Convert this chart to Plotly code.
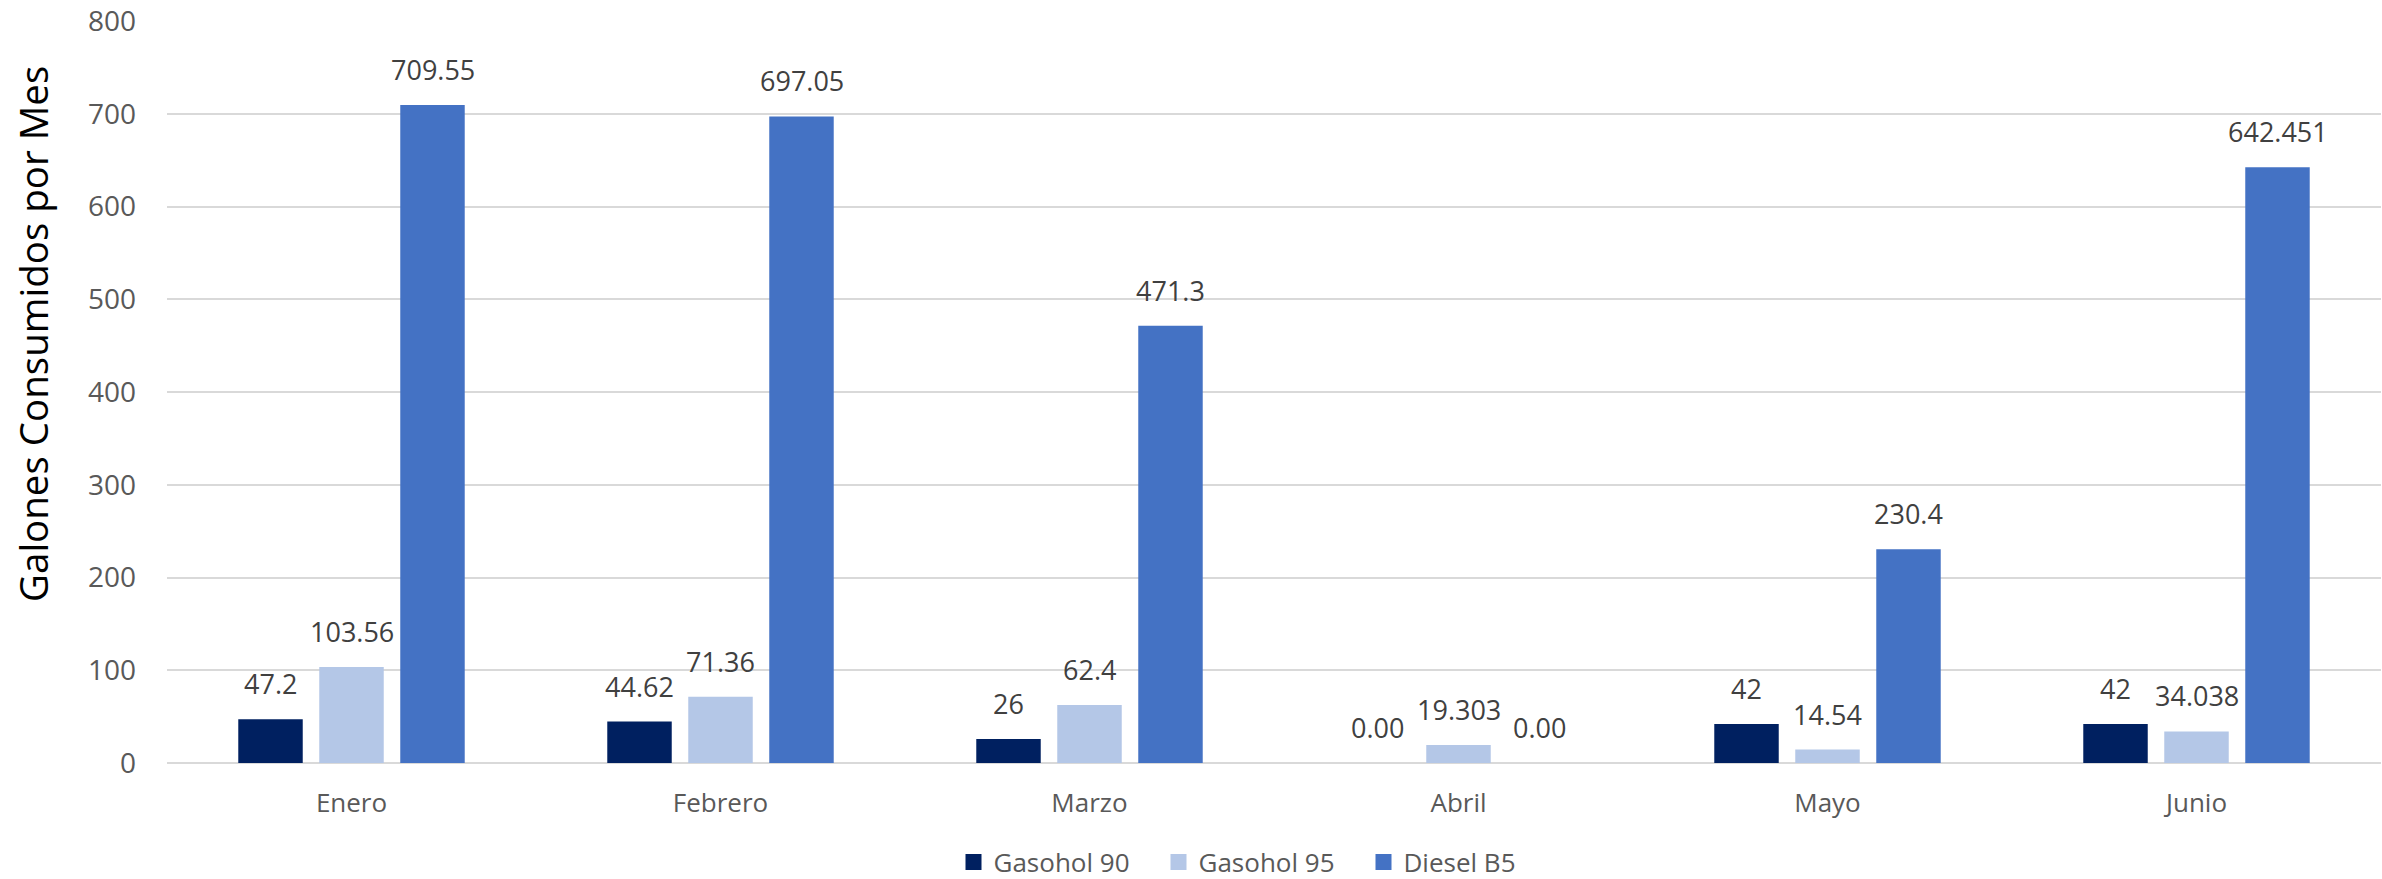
import plotly.graph_objects as go

months = ["Enero", "Febrero", "Marzo", "Abril", "Mayo", "Junio"]
gasohol90 = [47.2, 44.62, 26, 0, 42, 42]
gasohol95 = [103.56, 71.36, 62.4, 19.303, 14.54, 34.038]
diesel_b5 = [709.55, 697.05, 471.3, 0, 230.4, 642.451]
y_ticks = [0, 100, 200, 300, 400, 500, 600, 700, 800]

series = [
    ("Gasohol 90", gasohol90, "#002060"),
    ("Gasohol 95", gasohol95, "#B4C7E7"),
    ("Diesel B5", diesel_b5, "#4472C4"),
]

BARGAP = 0.3415
GROUPGAP = 0.204
FONT = "Open Sans, DejaVu Sans, sans-serif"
L, R, T, B = 167, 1, 21, 116
PW, PH = 2382 - L - R, 879 - T - B


def fmt(v):
    if v == 0:
        return "0.00"
    return str(v)


fig = go.Figure()
n = len(series)
slot = (1 - BARGAP) / n
for k, (name, vals, color) in enumerate(series):
    fig.add_trace(go.Bar(
        x=months, y=vals, name=name, showlegend=False,
        marker=dict(color=color, line=dict(width=0)),
        hoverinfo="x+y",
    ))
    # legend-only entry with a larger square swatch
    fig.add_trace(go.Scatter(
        x=[None], y=[None], mode="markers", name=name,
        marker=dict(symbol="square", size=17, color=color),
    ))
    off = (k - (n - 1) / 2) * slot
    for i, v in enumerate(vals):
        fig.add_annotation(
            x=i + off, y=v, xref="x", yref="y",
            text=fmt(v), showarrow=False,
            yanchor="bottom", xanchor="center", yshift=15,
            font=dict(family=FONT, size=27, color="#404040"),
        )

fig.add_annotation(
    xref="paper", yref="paper", x=(33 - L) / PW, y=(879 - B - 334) / PH,
    text="Galones Consumidos por Mes", textangle=-90, showarrow=False,
    xanchor="center", yanchor="middle",
    font=dict(family=FONT, size=38.5, color="black"),
)

fig.update_layout(
    width=2382, height=879,
    barmode="group", bargap=BARGAP, bargroupgap=GROUPGAP,
    plot_bgcolor="white", paper_bgcolor="white",
    margin=dict(l=L, r=R, t=T, b=B, autoexpand=False),
    showlegend=True,
    legend=dict(orientation="h", x=(1261 - L) / PW, xanchor="center", y=-(862 - (879 - B)) / PH,
                yanchor="middle",
                font=dict(family=FONT, size=26, color="#595959"),
                entrywidth=160, traceorder="normal", itemclick=False),
)
fig.update_xaxes(showgrid=False, showline=False, ticks="", ticklabelstandoff=22,
                 tickfont=dict(family=FONT, size=26, color="#595959"))
fig.update_yaxes(range=[0, 800], tickvals=y_ticks, showgrid=True, gridcolor="#D9D9D9", gridwidth=1.5,
                 zeroline=True, zerolinecolor="#D9D9D9", zerolinewidth=1.5, showline=False,
                 ticks="", ticklabelstandoff=30,
                 tickfont=dict(family=FONT, size=28, color="#595959"))

fig.write_html(
    "out.html",
    config={"displayModeBar": False},
    post_script="document.body.style.margin='0';document.body.style.overflow='hidden';",
)
